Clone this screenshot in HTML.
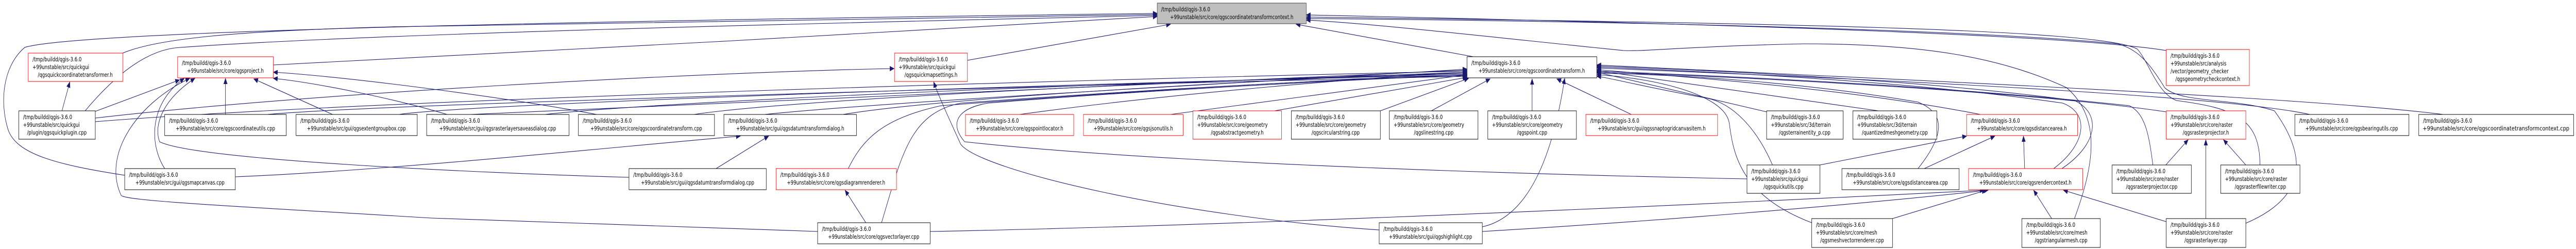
<!DOCTYPE html>
<html><head><meta charset="utf-8"><style>
html,body{margin:0;padding:0;background:#fff;overflow:hidden;width:100%;height:100%;}
svg{display:block;width:100vw;height:100vh;}
text{font-family:"DejaVu Sans","Liberation Sans",sans-serif;font-size:11.3px;fill:#000;}
.e{fill:none;stroke:#191970;stroke-width:1.1;marker-end:url(#a);}
.n{fill:#fff;stroke:#000;stroke-width:1;}
.r{fill:#fff;stroke:#ff0000;stroke-width:1;}
</style></head><body>
<svg viewBox="0 0 6569 483" preserveAspectRatio="none" xmlns="http://www.w3.org/2000/svg">
<defs><marker id="a" markerWidth="12" markerHeight="10" refX="11" refY="5" orient="auto" markerUnits="userSpaceOnUse"><path d="M0,0 L12,5 L0,10z" fill="#191970"/></marker></defs>

<path class="e" d="M697,126 C1200,105 2400,60 2951,32"/>
<path class="e" d="M313,103 C400,75 600,60 1000,52 C2000,40 2600,32 2951,28"/>
<path class="e" d="M217,215 C300,140 380,95 460,92 C1000,62 2400,40 2951,30"/>
<path class="e" d="M318,340 C150,320 40,300 20,250 C0,200 5,130 63,92 C200,60 1500,40 2951,26"/>
<path class="e" d="M2467,117 L2985,47"/>
<path class="e" d="M3757,110 L3305,47"/>
<path class="e" d="M5524,98 C5300,70 4500,48 3331,29"/>
<path class="e" d="M5763,320 C5763,230 5700,210 5550,195 C5500,180 5480,120 5450,95 C5350,55 4500,45 3331,33"/>
<path class="e" d="M5727,433 C5860,390 5900,320 5800,215 C5700,190 5560,200 5520,170 C5480,120 5450,95 5400,85 C5000,55 4000,40 3331,36"/>
<path class="e" d="M5290,424 C5340,320 5360,230 5270,170 C5100,110 4900,85 4600,85 C4300,90 4200,100 4140,98 C3900,80 3500,45 3331,39"/>

<path class="e" d="M243,216 L458,155"/>
<path class="e" d="M575,222 L575,152"/>
<path class="e" d="M848,222 L647,153"/>
<path class="e" d="M420,327 C380,280 380,200 470,152"/>
<path class="e" d="M2085,449 L1100,423 C600,400 320,390 309,379 C260,300 350,200 484,152"/>
<path class="e" d="M1604,344 C1200,335 500,310 407,275 C390,240 420,190 497,152"/>
<path class="e" d="M1140,222 C1000,190 800,160 697,152"/>
<path class="e" d="M1521,222 C1300,190 900,150 697,140"/>
<path class="e" d="M158,215 L178,159"/>

<path class="e" d="M1826,327 L1960,264"/>
<path class="e" d="M600,343 C1000,330 1500,290 1888,264"/>
<path class="e" d="M2208,432 L2155,369"/>
<path class="e" d="M3517,446 C3000,420 2500,330 2450,280 C2420,230 2390,180 2381,159"/>
<path class="e" d="M243,229 C800,180 1800,140 2280,133"/>

<path class="e" d="M682,222 C1000,200 3000,160 3741,148"/>
<path class="e" d="M1018,222 C1200,200 3000,155 3741,146"/>
<path class="e" d="M1390,222 C1700,195 3000,155 3741,144"/>
<path class="e" d="M1770,222 C2000,195 3000,155 3741,142"/>
<path class="e" d="M2150,222 C2400,190 3200,155 3741,140"/>
<path class="e" d="M2600,222 C3000,180 3500,150 3741,140"/>
<path class="e" d="M2985,222 L3741,145"/>
<path class="e" d="M3250,215 L3741,150"/>
<path class="e" d="M243,236 C1000,190 3000,150 3741,138"/>
<path class="e" d="M2163,327 C2200,270 2250,230 2400,205 C3000,170 3500,150 3741,146"/>
<path class="e" d="M2248,432 C2300,300 2320,220 2450,200 C3000,170 3500,150 3741,148"/>
<path class="e" d="M4455,347 C4000,340 3000,320 2460,275 C2420,240 2440,210 2520,200 C3000,170 3600,150 3741,145"/>
<path class="e" d="M1200,222 C1700,200 3000,165 3741,136"/>
<path class="e" d="M1950,222 C2300,195 3200,160 3741,134"/>

<path class="e" d="M3520,215 L3745,152"/>
<path class="e" d="M3650,215 L3800,153"/>
<path class="e" d="M3907,215 L3907,153"/>
<path class="e" d="M4160,222 L3970,153"/>

<path class="e" d="M4505,217 L4072,140"/>
<path class="e" d="M4790,215 L4072,137"/>
<path class="e" d="M5050,222 C4700,170 4300,150 4072,135"/>
<path class="e" d="M4620,432 C4440,380 4420,300 4410,240 C4400,180 4200,150 4072,145"/>
<path class="e" d="M4520,320 C4480,250 4420,200 4350,190 C4200,170 4100,150 4072,148"/>
<path class="e" d="M4891,327 C4961,260 4961,220 4891,198 C4600,160 4300,145 4072,142"/>
<path class="e" d="M5237,327 C5320,280 5330,220 5260,200 C4900,160 4400,140 4072,130"/>
<path class="e" d="M5258,327 C5350,280 5360,220 5290,195 C4900,155 4400,138 4072,128"/>
<path class="e" d="M5490,320 C5480,260 5470,220 5430,205 C5000,170 4500,150 4072,138"/>
<path class="e" d="M5524,217 C5200,180 4500,150 4072,140"/>
<path class="e" d="M5890,222 C5700,190 5000,160 4072,132"/>
<path class="e" d="M6230,222 C5900,190 5000,160 4072,126"/>
<path class="e" d="M3780,440 C3900,420 3960,300 3990,152"/>

<path class="e" d="M4641,320 L5015,264"/>
<path class="e" d="M4907,327 L5087,264"/>
<path class="e" d="M5163,327 L5160,264"/>
<path class="e" d="M4826,424 L5065,369"/>
<path class="e" d="M5232,424 L5186,369"/>
<path class="e" d="M5524,430 L5262,369"/>
<path class="e" d="M2372,449 C3000,440 4000,410 5060,369"/>
<path class="e" d="M3780,449 C4200,430 4700,400 5070,369"/>
<path class="e" d="M5523,320 L5580,271"/>
<path class="e" d="M5727,320 L5670,271"/>
<path class="e" d="M5625,424 L5625,271"/>

<rect class="r" x="72" y="103" width="241" height="55"/>
<text x="83" y="119">/tmp/buildd/qgis-3.6.0</text><text x="83" y="134">+99unstable/src/quickgui</text><text x="192" y="149" text-anchor="middle">/qgsquickcoordinatetransformer.h</text>

<rect class="r" x="453" y="110" width="244" height="41"/>
<text x="464" y="126">/tmp/buildd/qgis-3.6.0</text><text x="575" y="141" text-anchor="middle">+99unstable/src/core/qgsproject.h</text>

<rect class="n" x="48" y="215" width="195" height="55"/>
<text x="59" y="231">/tmp/buildd/qgis-3.6.0</text><text x="59" y="246">+99unstable/src/quickgui</text><text x="145" y="261" text-anchor="middle">/plugin/qgsquickplugin.cpp</text>

<rect class="n" x="420" y="222" width="310" height="41"/>
<text x="431" y="238">/tmp/buildd/qgis-3.6.0</text><text x="575" y="253" text-anchor="middle">+99unstable/src/core/qgscoordinateutils.cpp</text>

<rect class="n" x="755" y="222" width="309" height="41"/>
<text x="766" y="238">/tmp/buildd/qgis-3.6.0</text><text x="909" y="253" text-anchor="middle">+99unstable/src/gui/qgsextentgroupbox.cpp</text>

<rect class="n" x="318" y="327" width="282" height="41"/>
<text x="329" y="343">/tmp/buildd/qgis-3.6.0</text><text x="459" y="358" text-anchor="middle">+99unstable/src/gui/qgsmapcanvas.cpp</text>

<rect class="n" x="1088" y="222" width="363" height="41"/>
<text x="1099" y="238">/tmp/buildd/qgis-3.6.0</text><text x="1269" y="253" text-anchor="middle">+99unstable/src/gui/qgsrasterlayersaveasdialog.cpp</text>

<rect class="n" x="1475" y="222" width="347" height="41"/>
<text x="1486" y="238">/tmp/buildd/qgis-3.6.0</text><text x="1648" y="253" text-anchor="middle">+99unstable/src/core/qgscoordinatetransform.cpp</text>

<rect class="n" x="1846" y="222" width="338" height="41"/>
<text x="1857" y="238">/tmp/buildd/qgis-3.6.0</text><text x="2015" y="253" text-anchor="middle">+99unstable/src/gui/qgsdatumtransformdialog.h</text>

<rect class="n" x="1604" y="327" width="350" height="41"/>
<text x="1615" y="343">/tmp/buildd/qgis-3.6.0</text><text x="1779" y="358" text-anchor="middle">+99unstable/src/gui/qgsdatumtransformdialog.cpp</text>

<rect class="r" x="1979" y="327" width="307" height="41"/>
<text x="1990" y="343">/tmp/buildd/qgis-3.6.0</text><text x="2132" y="358" text-anchor="middle">+99unstable/src/core/qgsdiagramrenderer.h</text>

<rect class="n" x="2085" y="432" width="287" height="41"/>
<text x="2096" y="448">/tmp/buildd/qgis-3.6.0</text><text x="2228" y="463" text-anchor="middle">+99unstable/src/core/qgsvectorlayer.cpp</text>

<rect x="2951" y="6" width="380" height="40" fill="#bfbfbf" stroke="#404040"/>
<text x="2961" y="22">/tmp/buildd/qgis-3.6.0</text><text x="3141" y="37" text-anchor="middle">+99unstable/src/core/qgscoordinatetransformcontext.h</text>

<rect class="r" x="2281" y="103" width="186" height="55"/>
<text x="2292" y="119">/tmp/buildd/qgis-3.6.0</text><text x="2292" y="134">+99unstable/src/quickgui</text><text x="2374" y="149" text-anchor="middle">/qgsquickmapsettings.h</text>

<rect class="r" x="2462" y="222" width="276" height="41"/>
<text x="2473" y="238">/tmp/buildd/qgis-3.6.0</text><text x="2600" y="253" text-anchor="middle">+99unstable/src/core/qgspointlocator.h</text>

<rect class="r" x="2763" y="222" width="254" height="41"/>
<text x="2774" y="238">/tmp/buildd/qgis-3.6.0</text><text x="2890" y="253" text-anchor="middle">+99unstable/src/core/qgsjsonutils.h</text>

<rect class="r" x="3042" y="215" width="226" height="55"/>
<text x="3053" y="231">/tmp/buildd/qgis-3.6.0</text><text x="3053" y="246">+99unstable/src/core/geometry</text><text x="3155" y="261" text-anchor="middle">/qgsabstractgeometry.h</text>

<rect class="n" x="3293" y="215" width="227" height="55"/>
<text x="3304" y="231">/tmp/buildd/qgis-3.6.0</text><text x="3304" y="246">+99unstable/src/core/geometry</text><text x="3406" y="261" text-anchor="middle">/qgscircularstring.cpp</text>

<rect class="n" x="3741" y="110" width="331" height="41"/>
<text x="3752" y="126">/tmp/buildd/qgis-3.6.0</text><text x="3906" y="141" text-anchor="middle">+99unstable/src/core/qgscoordinatetransform.h</text>

<rect class="n" x="3543" y="215" width="226" height="55"/>
<text x="3554" y="231">/tmp/buildd/qgis-3.6.0</text><text x="3554" y="246">+99unstable/src/core/geometry</text><text x="3656" y="261" text-anchor="middle">/qgslinestring.cpp</text>

<rect class="n" x="3794" y="215" width="226" height="55"/>
<text x="3805" y="231">/tmp/buildd/qgis-3.6.0</text><text x="3805" y="246">+99unstable/src/core/geometry</text><text x="3907" y="261" text-anchor="middle">/qgspoint.cpp</text>

<rect class="r" x="4044" y="222" width="336" height="41"/>
<text x="4055" y="238">/tmp/buildd/qgis-3.6.0</text><text x="4212" y="253" text-anchor="middle">+99unstable/src/gui/qgssnaptogridcanvasitem.h</text>

<rect class="n" x="3517" y="432" width="263" height="41"/>
<text x="3528" y="448">/tmp/buildd/qgis-3.6.0</text><text x="3648" y="463" text-anchor="middle">+99unstable/src/gui/qgshighlight.cpp</text>

<rect class="n" x="4505" y="215" width="195" height="55"/>
<text x="4516" y="231">/tmp/buildd/qgis-3.6.0</text><text x="4516" y="246">+99unstable/src/3d/terrain</text><text x="4602" y="261" text-anchor="middle">/qgsterrainentity_p.cpp</text>

<rect class="n" x="4725" y="215" width="214" height="55"/>
<text x="4736" y="231">/tmp/buildd/qgis-3.6.0</text><text x="4736" y="246">+99unstable/src/3d/terrain</text><text x="4832" y="261" text-anchor="middle">/quantizedmeshgeometry.cpp</text>

<rect class="r" x="5015" y="222" width="283" height="41"/>
<text x="5026" y="238">/tmp/buildd/qgis-3.6.0</text><text x="5156" y="253" text-anchor="middle">+99unstable/src/core/qgsdistancearea.h</text>

<rect class="n" x="4455" y="320" width="186" height="55"/>
<text x="4466" y="336">/tmp/buildd/qgis-3.6.0</text><text x="4466" y="351">+99unstable/src/quickgui</text><text x="4548" y="366" text-anchor="middle">/qgsquickutils.cpp</text>

<rect class="n" x="4697" y="327" width="299" height="41"/>
<text x="4708" y="343">/tmp/buildd/qgis-3.6.0</text><text x="4846" y="358" text-anchor="middle">+99unstable/src/core/qgsdistancearea.cpp</text>

<rect class="r" x="5020" y="327" width="291" height="41"/>
<text x="5031" y="343">/tmp/buildd/qgis-3.6.0</text><text x="5165" y="358" text-anchor="middle">+99unstable/src/core/qgsrendercontext.h</text>

<rect class="n" x="5386" y="320" width="202" height="55"/>
<text x="5397" y="336">/tmp/buildd/qgis-3.6.0</text><text x="5397" y="351">+99unstable/src/core/raster</text><text x="5487" y="366" text-anchor="middle">/qgsrasterprojector.cpp</text>

<rect class="n" x="4620" y="424" width="206" height="56"/>
<text x="4631" y="440">/tmp/buildd/qgis-3.6.0</text><text x="4631" y="455">+99unstable/src/core/mesh</text><text x="4723" y="470" text-anchor="middle">/qgsmeshvectorrenderer.cpp</text>

<rect class="n" x="5156" y="424" width="200" height="56"/>
<text x="5167" y="440">/tmp/buildd/qgis-3.6.0</text><text x="5167" y="455">+99unstable/src/core/mesh</text><text x="5256" y="470" text-anchor="middle">/qgstriangularmesh.cpp</text>

<rect class="r" x="5524" y="96" width="212" height="70"/>
<text x="5535" y="112">/tmp/buildd/qgis-3.6.0</text><text x="5535" y="127">+99unstable/src/analysis</text><text x="5535" y="142">/vector/geometry_checker</text><text x="5630" y="157" text-anchor="middle">/qgsgeometrycheckcontext.h</text>

<rect class="r" x="5524" y="215" width="203" height="55"/>
<text x="5535" y="231">/tmp/buildd/qgis-3.6.0</text><text x="5535" y="246">+99unstable/src/core/raster</text><text x="5625" y="261" text-anchor="middle">/qgsrasterprojector.h</text>

<rect class="n" x="5852" y="222" width="291" height="41"/>
<text x="5863" y="238">/tmp/buildd/qgis-3.6.0</text><text x="5997" y="253" text-anchor="middle">+99unstable/src/core/qgsbearingutils.cpp</text>

<rect class="n" x="6168" y="222" width="395" height="41"/>
<text x="6179" y="238">/tmp/buildd/qgis-3.6.0</text><text x="6365" y="253" text-anchor="middle" textLength="374" lengthAdjust="spacingAndGlyphs">+99unstable/src/core/qgscoordinatetransformcontext.cpp</text>

<rect class="n" x="5663" y="320" width="202" height="55"/>
<text x="5674" y="336">/tmp/buildd/qgis-3.6.0</text><text x="5674" y="351">+99unstable/src/core/raster</text><text x="5764" y="366" text-anchor="middle">/qgsrasterfilewriter.cpp</text>

<rect class="n" x="5524" y="424" width="203" height="56"/>
<text x="5535" y="440">/tmp/buildd/qgis-3.6.0</text><text x="5535" y="455">+99unstable/src/core/raster</text><text x="5625" y="470" text-anchor="middle">/qgsrasterlayer.cpp</text>
</svg>
</body></html>
